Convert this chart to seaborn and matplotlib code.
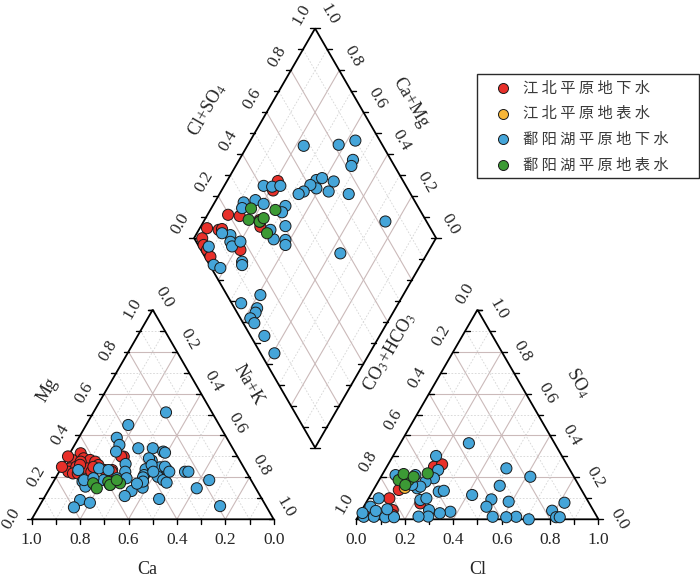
import numpy as np
import pandas as pd
import matplotlib
matplotlib.use("Agg")
import matplotlib.pyplot as plt
from matplotlib.patches import Rectangle
import seaborn as sns

# ---------------- data ----------------
groups = ["江北平原地下水", "江北平原地表水", "鄱阳湖平原地下水", "鄱阳湖平原地表水"]
colors = ["#E8302A", "#F7B536", "#45A5D9", "#3C9A35"]

# cation triangle (fractions Ca, Mg)
jb_gw_ca = [0.64, 0.69, 0.72, 0.735, 0.64, 0.617, 0.69, 0.65, 0.60, 0.64, 0.58, 0.55, 0.47, 0.72, 0.70,
            0.595, 0.66, 0.67, 0.62, 0.48, 0.556, 0.70, 0.75]
jb_gw_mg = [0.315, 0.283, 0.243, 0.227, 0.291, 0.283, 0.251, 0.243, 0.275, 0.227, 0.235, 0.235, 0.299, 0.219,
            0.219, 0.259, 0.275, 0.26, 0.25, 0.30, 0.227, 0.30, 0.25]
jb_sw_ca = [0.594]
jb_sw_mg = [0.17]
py_gw_ca = [0.19, 0.376, 0.454, 0.46, 0.49, 0.48, 0.50, 0.69, 0.60, 0.39, 0.33, 0.295, 0.29, 0.364, 0.37, 0.41,
            0.38, 0.346, 0.323, 0.377, 0.363, 0.355, 0.43, 0.44, 0.253, 0.239, 0.173, 0.244, 0.19, 0.425, 0.466,
            0.52, 0.56, 0.70, 0.70, 0.61, 0.55, 0.51, 0.754, 0.797, 0.72, 0.594, 0.565, 0.375, 0.384, 0.324,
            0.318, 0.45, 0.48, 0.69, 0.647]
py_gw_mg = [0.51, 0.45, 0.389, 0.355, 0.323, 0.264, 0.227, 0.235, 0.243, 0.339, 0.339, 0.323, 0.318, 0.28, 0.291,
            0.239, 0.235, 0.248, 0.239, 0.203, 0.187, 0.175, 0.211, 0.2, 0.227, 0.227, 0.187, 0.148, 0.063, 0.097,
            0.151, 0.135, 0.111, 0.18, 0.156, 0.187, 0.196, 0.196, 0.092, 0.057, 0.079, 0.164, 0.235, 0.259,
            0.227, 0.251, 0.227, 0.18, 0.17, 0.187, 0.196]
py_sw_ca = [0.66, 0.657, 0.594, 0.594, 0.549, 0.555]
py_sw_mg = [0.172, 0.148, 0.179, 0.164, 0.172, 0.187]

# anion triangle (fractions Cl, SO4)
jb_gw_cl = [0.128, 0.086, 0.105, 0.195, 0.223, 0.226, 0.14, 0.03]
jb_gw_so4 = [0.044, 0.1, 0.14, 0.251, 0.262, 0.076, 0.02, 0.03]
jb_sw_cl = [0.125]
jb_sw_so4 = [0.15]
py_gw_cl = [0.283, 0.498, 0.617, 0.512, 0.42, 0.51, 0.587, 0.507, 0.82, 0.788, 0.82, 0.835, 0.712, 0.654, 0.614,
            0.557, 0.37, 0.33, 0.278, 0.29, 0.25, 0.218, 0.239, 0.274, 0.293, 0.178, 0.22, 0.222, 0.196, 0.177,
            0.024, 0.066, 0.114, 0.15, 0.028, 0.042, 0.103, 0.056, 0.138, 0.186, 0.148, 0.01, 0.06]
py_gw_so4 = [0.363, 0.243, 0.203, 0.16, 0.116, 0.095, 0.084, 0.06, 0.079, 0.041, 0.01, 0.01, 0.0, 0.012, 0.01,
             0.012, 0.036, 0.029, 0.044, 0.013, 0.013, 0.092, 0.1, 0.132, 0.136, 0.302, 0.235, 0.196, 0.179,
             0.148, 0.012, 0.012, 0.01, 0.01, 0.06, 0.1, 0.048, 0.211, 0.211, 0.156, 0.164, 0.03, 0.04]
py_sw_cl = [0.081, 0.122, 0.087, 0.135, 0.12, 0.185]
py_sw_so4 = [0.187, 0.187, 0.216, 0.203, 0.164, 0.219]

# diamond (fractions Ca+Mg, Cl+SO4)
jb_gw_cm = [0.79, 0.787, 0.915, 0.864, 0.97, 0.918, 0.906, 0.966, 0.944, 0.918, 0.888, 0.78, 0.753, 0.772]
jb_gw_a = [0.482, 0.44, 0.196, 0.241, 0.077, 0.121, 0.137, 0.033, 0.023, 0.025, 0.023, 0.163, 0.301, 0.314]
jb_sw_cm = [0.768]
jb_sw_a = [0.31]
py_gw_cm = [0.767, 0.625, 0.566, 0.53, 0.522, 0.558, 0.555, 0.466, 0.633, 0.614, 0.613, 0.646, 0.658, 0.673,
            0.249, 0.359, 0.837, 0.80, 0.768, 0.88, 0.837, 0.794, 0.699, 0.698, 0.651, 0.668, 0.618, 0.606,
            0.704, 0.873, 0.857, 0.841, 0.823, 0.896, 0.919, 0.855, 0.82, 0.745, 0.737, 0.59, 0.65, 0.572,
            0.568, 0.576, 0.548, 0.476, 0.393, 0.80]
py_gw_a = [0.673, 0.82, 0.899, 0.843, 0.822, 0.712, 0.667, 0.744, 0.644, 0.672, 0.624, 0.607, 0.564, 0.537,
           0.83, 0.568, 0.412, 0.445, 0.481, 0.29, 0.344, 0.369, 0.454, 0.425, 0.406, 0.326, 0.373, 0.361,
           0.335, 0.27, 0.157, 0.141, 0.137, 0.127, 0.04, 0.017, 0.037, 0.142, 0.134, 0.138, 0.039, 0.093,
           0.076, 0.041, 0.046, 0.057, 0.057, 0.183]
py_sw_cm = [0.835, 0.731, 0.818, 0.768, 0.76, 0.71]
py_sw_a = [0.306, 0.403, 0.269, 0.31, 0.335, 0.313]

tick_vals = [1.0, 0.8, 0.6, 0.4, 0.2, 0.0]

# ---------------- geometry ----------------
S3 = np.sqrt(3) / 2
GAP = 0.342
XR = 1 + GAP
BX, BY = 1 + GAP / 2, GAP * S3
PX = 242.0
X0, Y0 = 31.7, 519.3


def cat_xy(ca, mg):
    ca = np.asarray(ca, float); mg = np.asarray(mg, float)
    return (1 - ca - mg) + mg / 2, mg * S3


def an_xy(cl, so4):
    cl = np.asarray(cl, float); so4 = np.asarray(so4, float)
    return XR + cl + so4 / 2, so4 * S3


def dia_xy(cm, a):
    cm = np.asarray(cm, float); a = np.asarray(a, float)
    return BX + 0.5 * (a - cm), BY + S3 * (a + cm)


def pix(px, py):
    return (px - X0) / PX, (Y0 - py) / PX


sns.set_theme(style="white")
plt.rcParams["font.family"] = ["Liberation Serif", "DejaVu Serif"]
plt.rcParams["mathtext.fontset"] = "stix"

fig = plt.figure(figsize=(7, 5.77), dpi=100)
ax = fig.add_axes([0, 0, 1, 1])

g_major = dict(color="#CBBABA", lw=0.8, zorder=1)
g_minor = dict(color="#D4D4D4", lw=0.6, ls=(0, (2, 2)), zorder=1)


def tri_grid(x0):
    for k in range(1, 10):
        f = k / 10
        st = g_major if k % 2 == 0 else g_minor
        ax.plot([x0 + f / 2, x0 + 1 - f / 2], [f * S3, f * S3], **st)
        ax.plot([x0 + 1 - f, x0 + (1 - f) / 2], [0, (1 - f) * S3], **st)
        ax.plot([x0 + f, x0 + f + (1 - f) / 2], [0, (1 - f) * S3], **st)


tri_grid(0)
tri_grid(XR)
for k in range(1, 10):
    f = k / 10
    st = g_major if k % 2 == 0 else g_minor
    xa, ya = dia_xy([0, 1], [f, f])
    ax.plot(xa, ya, **st)
    xb, yb = dia_xy([f, f], [0, 1])
    ax.plot(xb, yb, **st)

# outlines
ol = dict(color="black", lw=1.3, zorder=3, solid_joinstyle="miter")
ax.plot([0, 1, 0.5, 0], [0, 0, S3, 0], **ol)
ax.plot([XR, XR + 1, XR + 0.5, XR], [0, 0, S3, 0], **ol)
dx, dy = dia_xy([0, 1, 1, 0, 0], [0, 0, 1, 1, 0])
ax.plot(dx, dy, **ol)

# ticks
t = 5 / PX
tk = dict(color="black", lw=1.0, zorder=3)
for k in range(11):
    f = k / 10
    for x0 in (0, XR):
        ax.plot([x0 + f, x0 + f], [0, -t], **tk)
    ax.plot([f / 2, f / 2 - t], [f * S3] * 2, **tk)
    ax.plot([1 - f / 2, 1 - f / 2 - t], [f * S3] * 2, **tk)
    ax.plot([XR + f / 2, XR + f / 2 + t], [f * S3] * 2, **tk)
    ax.plot([XR + 1 - f / 2, XR + 1 - f / 2 + t], [f * S3] * 2, **tk)
    px_, py_ = dia_xy(1, f)
    ax.plot([px_, px_ - t], [py_, py_], **tk)
    px_, py_ = dia_xy(f, 1)
    ax.plot([px_, px_ + t], [py_, py_], **tk)
    px_, py_ = dia_xy(1 - f, 0)
    ax.plot([px_, px_ + t], [py_, py_], **tk)
    px_, py_ = dia_xy(0, f)
    ax.plot([px_, px_ - t], [py_, py_], **tk)

# tick labels
fs = 12.5
for v in tick_vals:
    s = f"{v:.1f}"
    ax.text(1 - v, -21 / PX, s, ha="center", va="center", fontsize=fs)
    ax.text(v / 2 - 20 / PX, v * S3 + 1 / PX, s, ha="center", va="center", fontsize=fs, rotation=60)
    ax.text(v + (1 - v) / 2 + 12 / PX, (1 - v) * S3 + 12 / PX, s, ha="center", va="center",
            fontsize=fs, rotation=-60)
    ax.text(XR + v, -21 / PX, s, ha="center", va="center", fontsize=fs)
    ax.text(XR + (1 - v) / 2 - 12 / PX, (1 - v) * S3 + 16 / PX, s, ha="center", va="center",
            fontsize=fs, rotation=60)
    ax.text(XR + 1 - v / 2 + 21 / PX, v * S3, s, ha="center", va="center", fontsize=fs, rotation=-60)
    px_, py_ = dia_xy(1, v)
    ax.text(px_ - 14 / PX, py_ + 14 / PX, s, ha="center", va="center", fontsize=fs, rotation=60)
    px_, py_ = dia_xy(v, 1)
    ax.text(px_ + 14 / PX, py_ + 14 / PX, s, ha="center", va="center", fontsize=fs, rotation=-60)

fl = 13
ax.text(*pix(147, 569), "Ca", ha="center", va="center", fontsize=fl)
ax.text(*pix(478, 569), "Cl", ha="center", va="center", fontsize=fl)
ax.text(*pix(47, 390), "Mg", ha="center", va="center", fontsize=fl, rotation=60)
ax.text(*pix(248, 385), "Na+K", ha="center", va="center", fontsize=fl, rotation=-60)
ax.text(*pix(390, 352), "CO$_3$+HCO$_3$", ha="center", va="center", fontsize=fl, rotation=60)
ax.text(*pix(578, 383), "SO$_4$", ha="center", va="center", fontsize=fl, rotation=-60)
ax.text(*pix(207, 110), "Cl+SO$_4$", ha="center", va="center", fontsize=fl, rotation=60)
ax.text(*pix(410, 103), "Ca+Mg", ha="center", va="center", fontsize=fl, rotation=-60)

# points
rows = []
cat = [(jb_gw_ca, jb_gw_mg), (jb_sw_ca, jb_sw_mg), (py_gw_ca, py_gw_mg), (py_sw_ca, py_sw_mg)]
an = [(jb_gw_cl, jb_gw_so4), (jb_sw_cl, jb_sw_so4), (py_gw_cl, py_gw_so4), (py_sw_cl, py_sw_so4)]
dia = [(jb_gw_cm, jb_gw_a), (jb_sw_cm, jb_sw_a), (py_gw_cm, py_gw_a), (py_sw_cm, py_sw_a)]
for g, (c1, c2), (a1, a2), (d1, d2) in zip(groups, cat, an, dia):
    for fn, (u, w) in ((cat_xy, (c1, c2)), (an_xy, (a1, a2)), (dia_xy, (d1, d2))):
        xs, ys = fn(u, w)
        for x, y in zip(xs, ys):
            rows.append({"x": x, "y": y, "group": g})
df = pd.DataFrame(rows)
df["order"] = df["group"].map({g: i for i, g in enumerate(groups)})
df = df.sort_values("order", kind="stable")
sns.scatterplot(data=df, x="x", y="y", hue="group", hue_order=groups, palette=dict(zip(groups, colors)),
                s=64, edgecolor="#1a1a1a", linewidth=0.7, legend=False, ax=ax, zorder=5)
ax.set_xlim(-X0 / PX, (700 - X0) / PX)
ax.set_ylim(-(577 - Y0) / PX, Y0 / PX)
ax.axis("off")

# legend (manual box)
lx0, ly0 = pix(477, 178)
lx1, ly1 = pix(699, 74)
ax.add_patch(Rectangle((lx0, ly0), lx1 - lx0, ly1 - ly0, fill=True, facecolor="white",
                       edgecolor="#2a2a2a", lw=1.0, zorder=6))
for i, (g, c) in enumerate(zip(groups, colors)):
    yy = 88 + i * 25.7
    mx, my = pix(502.7, yy)
    ax.scatter([mx], [my], s=52, color=c, edgecolor="#1a1a1a", linewidth=0.7, zorder=7)
    tx, ty = pix(523, yy)
    ax.text(tx, ty, " ".join(g), ha="left", va="center", fontsize=11, color="#3a3a3a",
            family=["Noto Sans CJK SC", "DejaVu Sans"], zorder=7)

fig.savefig("out.png", dpi=100)
